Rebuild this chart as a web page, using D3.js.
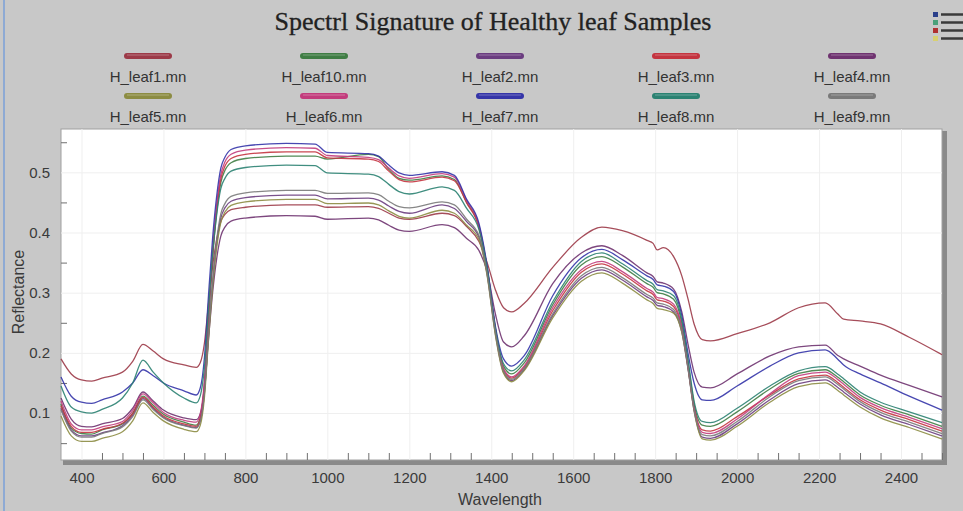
<!DOCTYPE html>
<html>
<head>
<meta charset="utf-8">
<script src="https://cdn.jsdelivr.net/npm/d3@7"></script>
<style>
  body { margin: 0; background: #c8c8c8; }
  svg { display: block; }
</style>
</head>
<body>
<div class="chart"></div>
<script>
const width = 963,
    height = 511;

// wavelength (nm) sample points shared by all spectra
const wavelengths = [350, 375, 400, 425, 450, 500, 525, 550, 575, 600, 650, 680,
    690, 700, 710, 720, 730, 740, 750, 765, 800,
    900, 970, 1000, 1100, 1125, 1150, 1175, 1200, 1280, 1310,
    1340, 1370, 1390, 1410, 1430, 1450, 1480, 1550, 1620, 1670,
    1720, 1780, 1795, 1805, 1820, 1845, 1865, 1880, 1895, 1915,
    1935, 2000, 2080, 2150, 2215, 2245, 2260, 2300, 2350, 2420, 2500];

const leaf1 = [0.190, 0.165, 0.155, 0.153, 0.158, 0.168, 0.186, 0.214, 0.203, 0.190, 0.180, 0.176,
    0.184, 0.216, 0.282, 0.344, 0.389, 0.418, 0.430, 0.438, 0.442,
    0.446, 0.446, 0.442, 0.443, 0.440, 0.432, 0.424, 0.422, 0.432, 0.428,
    0.410, 0.385, 0.350, 0.305, 0.275, 0.268, 0.282, 0.342, 0.392, 0.409,
    0.403, 0.387, 0.382, 0.371, 0.375, 0.360, 0.328, 0.290, 0.248, 0.222,
    0.220, 0.232, 0.250, 0.275, 0.283, 0.265, 0.256, 0.253, 0.248, 0.226, 0.197];
const leaf10 = [0.115, 0.075, 0.066, 0.065, 0.072, 0.082, 0.100, 0.128, 0.113, 0.098, 0.085, 0.080,
    0.093, 0.146, 0.257, 0.359, 0.434, 0.483, 0.503, 0.516, 0.523,
    0.527, 0.527, 0.522, 0.530, 0.526, 0.505, 0.490, 0.487, 0.494, 0.488,
    0.450, 0.410, 0.340, 0.240, 0.178, 0.165, 0.183, 0.280, 0.346, 0.360,
    0.343, 0.315, 0.309, 0.300, 0.298, 0.289, 0.250, 0.185, 0.115, 0.080,
    0.078, 0.102, 0.140, 0.166, 0.172, 0.160, 0.152, 0.130, 0.113, 0.097, 0.078];
const leaf2 = [0.108, 0.072, 0.062, 0.062, 0.067, 0.079, 0.096, 0.124, 0.108, 0.093, 0.080, 0.076,
    0.087, 0.133, 0.229, 0.317, 0.382, 0.424, 0.441, 0.452, 0.458,
    0.462, 0.462, 0.456, 0.457, 0.454, 0.444, 0.435, 0.432, 0.446, 0.440,
    0.418, 0.392, 0.330, 0.232, 0.168, 0.154, 0.172, 0.262, 0.324, 0.338,
    0.321, 0.293, 0.287, 0.279, 0.277, 0.268, 0.235, 0.174, 0.104, 0.060,
    0.058, 0.082, 0.122, 0.149, 0.155, 0.143, 0.135, 0.115, 0.097, 0.081, 0.062];
const leaf3 = [0.112, 0.078, 0.068, 0.068, 0.073, 0.083, 0.099, 0.126, 0.110, 0.095, 0.082, 0.078,
    0.092, 0.146, 0.259, 0.363, 0.440, 0.489, 0.510, 0.523, 0.530,
    0.534, 0.534, 0.524, 0.522, 0.518, 0.502, 0.488, 0.484, 0.492, 0.486,
    0.449, 0.408, 0.338, 0.238, 0.172, 0.158, 0.176, 0.270, 0.334, 0.348,
    0.331, 0.303, 0.297, 0.288, 0.286, 0.277, 0.241, 0.178, 0.110, 0.072,
    0.070, 0.094, 0.130, 0.157, 0.163, 0.151, 0.143, 0.122, 0.105, 0.089, 0.070];
const leaf4 = [0.125, 0.090, 0.078, 0.077, 0.082, 0.091, 0.108, 0.135, 0.120, 0.105, 0.092, 0.089,
    0.099, 0.139, 0.223, 0.300, 0.357, 0.394, 0.409, 0.419, 0.424,
    0.428, 0.427, 0.422, 0.424, 0.421, 0.412, 0.404, 0.402, 0.413, 0.408,
    0.390, 0.370, 0.335, 0.265, 0.218, 0.210, 0.228, 0.315, 0.366, 0.378,
    0.362, 0.333, 0.327, 0.318, 0.316, 0.306, 0.268, 0.215, 0.168, 0.143,
    0.142, 0.165, 0.195, 0.210, 0.213, 0.196, 0.190, 0.178, 0.163, 0.146, 0.127];
const leaf5 = [0.095, 0.062, 0.053, 0.053, 0.058, 0.069, 0.087, 0.117, 0.101, 0.087, 0.073, 0.069,
    0.080, 0.126, 0.222, 0.310, 0.375, 0.417, 0.434, 0.445, 0.451,
    0.455, 0.455, 0.448, 0.449, 0.446, 0.436, 0.427, 0.424, 0.437, 0.432,
    0.412, 0.388, 0.328, 0.230, 0.166, 0.152, 0.170, 0.258, 0.319, 0.333,
    0.316, 0.288, 0.282, 0.274, 0.272, 0.266, 0.234, 0.176, 0.104, 0.057,
    0.055, 0.078, 0.118, 0.144, 0.150, 0.138, 0.130, 0.110, 0.092, 0.076, 0.057];
const leaf6 = [0.120, 0.082, 0.072, 0.072, 0.077, 0.086, 0.104, 0.132, 0.117, 0.101, 0.088, 0.085,
    0.099, 0.153, 0.266, 0.370, 0.447, 0.496, 0.517, 0.530, 0.537,
    0.541, 0.540, 0.528, 0.525, 0.521, 0.507, 0.494, 0.490, 0.498, 0.492,
    0.453, 0.412, 0.342, 0.242, 0.174, 0.160, 0.178, 0.275, 0.338, 0.352,
    0.335, 0.307, 0.301, 0.292, 0.290, 0.281, 0.244, 0.180, 0.108, 0.068,
    0.066, 0.090, 0.132, 0.162, 0.168, 0.156, 0.148, 0.126, 0.109, 0.093, 0.074];
const leaf7 = [0.160, 0.128, 0.118, 0.116, 0.122, 0.135, 0.150, 0.172, 0.162, 0.150, 0.137, 0.130,
    0.142, 0.192, 0.296, 0.391, 0.461, 0.507, 0.525, 0.538, 0.544,
    0.548, 0.547, 0.533, 0.531, 0.527, 0.512, 0.499, 0.495, 0.501, 0.495,
    0.455, 0.415, 0.345, 0.245, 0.190, 0.178, 0.195, 0.295, 0.358, 0.372,
    0.355, 0.328, 0.322, 0.313, 0.311, 0.302, 0.262, 0.200, 0.150, 0.122,
    0.121, 0.145, 0.178, 0.200, 0.205, 0.190, 0.180, 0.165, 0.150, 0.128, 0.105];
const leaf8 = [0.145, 0.110, 0.102, 0.100, 0.106, 0.125, 0.150, 0.188, 0.168, 0.150, 0.125, 0.117,
    0.129, 0.176, 0.273, 0.363, 0.430, 0.473, 0.490, 0.502, 0.508,
    0.512, 0.511, 0.499, 0.497, 0.493, 0.480, 0.468, 0.464, 0.476, 0.470,
    0.440, 0.405, 0.340, 0.240, 0.182, 0.170, 0.188, 0.285, 0.352, 0.366,
    0.348, 0.320, 0.314, 0.305, 0.303, 0.295, 0.255, 0.190, 0.120, 0.086,
    0.084, 0.108, 0.145, 0.170, 0.177, 0.165, 0.157, 0.135, 0.118, 0.102, 0.084];
const leaf9 = [0.105, 0.070, 0.060, 0.060, 0.066, 0.077, 0.094, 0.122, 0.106, 0.092, 0.079, 0.075,
    0.087, 0.134, 0.231, 0.321, 0.388, 0.431, 0.448, 0.460, 0.466,
    0.470, 0.470, 0.465, 0.466, 0.463, 0.452, 0.443, 0.441, 0.451, 0.446,
    0.422, 0.395, 0.332, 0.235, 0.170, 0.156, 0.174, 0.265, 0.328, 0.342,
    0.325, 0.297, 0.291, 0.283, 0.281, 0.272, 0.238, 0.176, 0.106, 0.064,
    0.062, 0.086, 0.127, 0.154, 0.160, 0.148, 0.140, 0.119, 0.101, 0.085, 0.066];

const seriesNames = ["H_leaf1.mn", "H_leaf10.mn", "H_leaf2.mn", "H_leaf3.mn", "H_leaf4.mn",
    "H_leaf5.mn", "H_leaf6.mn", "H_leaf7.mn", "H_leaf8.mn", "H_leaf9.mn"];
const seriesValues = [leaf1, leaf10, leaf2, leaf3, leaf4, leaf5, leaf6, leaf7, leaf8, leaf9];
const colors = ["#9c3a48", "#3f7d44", "#6b3d80", "#c4343f", "#6f3370",
    "#8c8c42", "#c23c7c", "#3434a8", "#2b8272", "#7a7a7a"];

const xTickLabels = [400, 600, 800, 1000, 1200, 1400, 1600, 1800, 2000, 2200, 2400];
const yTickLabels = [0.1, 0.2, 0.3, 0.4, 0.5];

const plot = {left: 61, right: 942, top: 129, bottom: 460};

document.addEventListener('DOMContentLoaded', () => {
    let svg = d3.select(".chart").append("svg")
        .attr("width", width)
        .attr("height", height)
        .style("font-family", "Liberation Sans, Arial, sans-serif");

    svg.append("rect")
        .attr("width", width)
        .attr("height", height)
        .style("fill", "#c8c8c8");

    // window edge on the left
    svg.append("rect")
        .attr("x", 3).attr("y", 0)
        .attr("width", 2).attr("height", height)
        .style("fill", "#8eaad4");

    svg.append("text")
        .attr("x", 493)
        .attr("y", 30)
        .attr("text-anchor", "middle")
        .style("font-family", "Liberation Serif, Times New Roman, serif")
        .style("font-size", "26px")
        .style("fill", "#222")
        .style("stroke", "#222")
        .style("stroke-width", 0.3)
        .text("Spectrl Signature of Healthy leaf Samples");

    // menu icon, top right
    const iconColors = ["#2a3f8a", "#4aa07a", "#b03030", "#d8d070"];
    iconColors.forEach((c, i) => {
        svg.append("rect")
            .attr("x", 933).attr("y", 12 + i * 8)
            .attr("width", 5).attr("height", 5)
            .style("fill", c);
        svg.append("line")
            .attr("x1", 941).attr("x2", 963)
            .attr("y1", 14.5 + i * 8).attr("y2", 14.5 + i * 8)
            .style("stroke", "#3a3a3a")
            .style("stroke-width", 2.5);
    });

    // legend, 5 columns x 2 rows
    seriesNames.forEach((name, i) => {
        let col = i % 5,
            row = Math.floor(i / 5);
        let cx = 148 + col * 176,
            sy = 56 + row * 40;
        let g = svg.append("g").attr("class", "legend-item");
        g.append("rect")
            .attr("x", cx - 24).attr("y", sy - 3)
            .attr("width", 48).attr("height", 6)
            .attr("rx", 3)
            .style("fill", colors[i]);
        g.append("line")
            .attr("x1", cx - 21).attr("x2", cx + 21)
            .attr("y1", sy - 1).attr("y2", sy - 1)
            .style("stroke", "#ffffff")
            .style("stroke-opacity", 0.3);
        g.append("text")
            .attr("x", cx).attr("y", sy + 26)
            .attr("text-anchor", "middle")
            .style("font-size", "15px")
            .style("fill", "#333")
            .text(name);
    });

    let x = d3.scaleLinear().domain([350, 2500]).range([plot.left, plot.right]);
    let y = d3.scaleLinear().domain([0.022, 0.572]).range([plot.bottom, plot.top]);

    // plot shadow and background
    svg.append("rect")
        .attr("x", plot.left + 2).attr("y", plot.top + 2)
        .attr("width", plot.right - plot.left + 3)
        .attr("height", plot.bottom - plot.top + 3)
        .style("fill", "#8a8a8a");
    svg.append("rect")
        .attr("x", plot.left).attr("y", plot.top)
        .attr("width", plot.right - plot.left)
        .attr("height", plot.bottom - plot.top)
        .style("fill", "#ffffff")
        .style("stroke", "#a0a0a0")
        .style("stroke-width", 1);

    // faint grid at labelled values
    svg.append("g")
        .attr("transform", `translate(0,${plot.bottom})`)
        .call(d3.axisBottom(x).tickValues(xTickLabels).tickSize(-(plot.bottom - plot.top)).tickFormat(""))
        .call(g => g.select(".domain").remove())
        .selectAll("line").style("stroke", "#efefef");
    svg.append("g")
        .attr("transform", `translate(${plot.left},0)`)
        .call(d3.axisLeft(y).tickValues(yTickLabels).tickSize(-(plot.right - plot.left)).tickFormat(""))
        .call(g => g.select(".domain").remove())
        .selectAll("line").style("stroke", "#efefef");

    // minor ticks inside the plot
    let xMinor = d3.range(400, 2501, 50).filter(v => v % 200 !== 0);
    let yMinor = [0.05, 0.15, 0.25, 0.35, 0.45, 0.55];
    svg.append("g")
        .attr("transform", `translate(0,${plot.bottom})`)
        .call(d3.axisBottom(x).tickValues(xMinor).tickSize(-7).tickFormat(""))
        .call(g => g.select(".domain").remove())
        .selectAll("line").style("stroke", "#707070");
    svg.append("g")
        .attr("transform", `translate(${plot.left},0)`)
        .call(d3.axisLeft(y).tickValues(yMinor).tickSize(-6).tickFormat(""))
        .call(g => g.select(".domain").remove())
        .selectAll("line").style("stroke", "#707070");

    // spectra
    let line = d3.line()
        .x((d, i) => x(wavelengths[i]))
        .y(d => y(d))
        .curve(d3.curveMonotoneX);

    seriesValues.forEach((values, i) => {
        svg.append("path")
            .datum(values)
            .attr("d", line)
            .attr("class", "spectrum")
            .style("fill", "none")
            .style("stroke", colors[i])
            .style("stroke-width", 1.3)
            .style("stroke-opacity", 0.9);
    });

    // tick labels
    let xAxis = svg.append("g")
        .attr("transform", `translate(0,${plot.bottom + 4})`)
        .call(d3.axisBottom(x).tickValues(xTickLabels).tickSize(0).tickPadding(8).tickFormat(d3.format("d")));
    xAxis.select(".domain").remove();
    xAxis.selectAll("text")
        .style("font-family", "Liberation Sans, Arial, sans-serif")
        .style("font-size", "15px")
        .style("fill", "#3a3a3a");

    let yAxis = svg.append("g")
        .attr("transform", `translate(${plot.left},0)`)
        .call(d3.axisLeft(y).tickValues(yTickLabels).tickSize(0).tickPadding(11).tickFormat(d3.format(".1f")));
    yAxis.select(".domain").remove();
    yAxis.selectAll("text")
        .style("font-family", "Liberation Sans, Arial, sans-serif")
        .style("font-size", "15px")
        .style("fill", "#3a3a3a");

    svg.append("text")
        .attr("x", 500)
        .attr("y", 505)
        .attr("text-anchor", "middle")
        .style("font-size", "16px")
        .style("fill", "#3a3a3a")
        .text("Wavelength");

    svg.append("text")
        .attr("transform", "translate(24,292) rotate(-90)")
        .attr("text-anchor", "middle")
        .style("font-size", "16px")
        .style("fill", "#3a3a3a")
        .text("Reflectance");
});
</script>
</body>
</html>
